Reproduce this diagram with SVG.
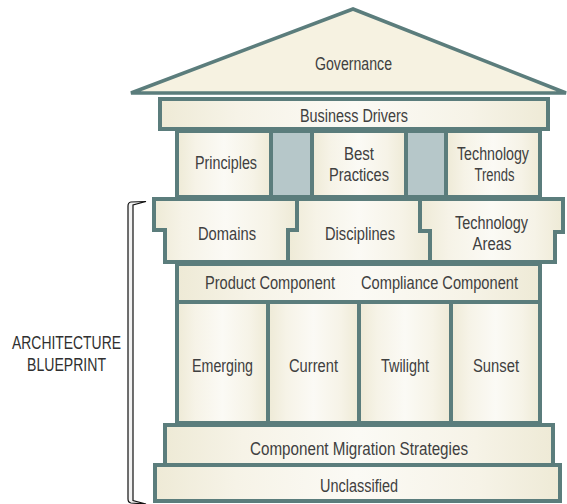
<svg xmlns="http://www.w3.org/2000/svg" width="567" height="504" viewBox="0 0 567 504">
  <defs>
    <linearGradient id="cream" x1="0" y1="0" x2="1" y2="0">
      <stop offset="0" stop-color="#eeead6"/>
      <stop offset="0.2" stop-color="#f6f3e7"/>
      <stop offset="0.5" stop-color="#fbfaf5"/>
      <stop offset="0.8" stop-color="#f6f3e7"/>
      <stop offset="1" stop-color="#eeead6"/>
    </linearGradient>
    <style>
      .box { fill: url(#cream); stroke: #5b7d7c; stroke-width: 4; stroke-linejoin: miter; }
      .roof { fill: #f6f2e1; stroke: #5b7d7c; stroke-width: 3.5; stroke-linejoin: miter; }
      .gap { fill: #b6c7c9; stroke: #5b7d7c; stroke-width: 4; }
      .lbl { font-family: "Liberation Sans", Arial, sans-serif; font-size: 17.5px; fill: #404040; text-anchor: middle; }
      .side { font-family: "Liberation Sans", Arial, sans-serif; font-size: 17.5px; fill: #303030; text-anchor: middle; }
      .brk { fill: #f2f2f2; stroke: #111; stroke-width: 1.2; }
    </style>
  </defs>

  <rect width="567" height="504" fill="#ffffff"/>

  <!-- roof -->
  <g id="governance">
    <polygon class="roof" points="353,9 131,93 566,93"/>
    <text class="lbl" x="353.5" y="70" textLength="77" lengthAdjust="spacingAndGlyphs">Governance</text>
  </g>

  <g id="business-drivers">
    <rect class="box" x="160" y="99" width="388" height="30"/>
    <text class="lbl" x="354" y="122" textLength="108" lengthAdjust="spacingAndGlyphs">Business Drivers</text>
  </g>

  <!-- upper columns row with gray gaps -->
  <g id="upper-row">
    <rect class="gap" x="177" y="131" width="363" height="66"/>
  </g>
  <g id="principles">
    <rect class="box" x="177" y="131" width="94" height="66"/>
    <text class="lbl" x="226" y="169" textLength="62" lengthAdjust="spacingAndGlyphs">Principles</text>
  </g>
  <g id="best-practices">
    <rect class="box" x="312" y="131" width="94" height="66"/>
    <text class="lbl" x="359" y="160" textLength="30" lengthAdjust="spacingAndGlyphs">Best</text>
    <text class="lbl" x="359" y="181" textLength="60" lengthAdjust="spacingAndGlyphs">Practices</text>
  </g>
  <g id="technology-trends">
    <rect class="box" x="446" y="131" width="94" height="66"/>
    <text class="lbl" x="493" y="160" textLength="72" lengthAdjust="spacingAndGlyphs">Technology</text>
    <text class="lbl" x="494.5" y="181" textLength="40" lengthAdjust="spacingAndGlyphs">Trends</text>
  </g>

  <!-- interlocking pieces -->
  <g id="domains">
    <polygon class="box" points="154,199 297,199 297,230 288,230 288,262 165,262 165,230 154,230"/>
    <text class="lbl" x="227" y="240" textLength="58" lengthAdjust="spacingAndGlyphs">Domains</text>
  </g>
  <g id="disciplines">
    <polygon class="box" points="297,199 420,199 420,231 430,231 430,262 288,262 288,230 297,230"/>
    <text class="lbl" x="360" y="240" textLength="70" lengthAdjust="spacingAndGlyphs">Disciplines</text>
  </g>
  <g id="technology-areas">
    <polygon class="box" points="420,199 563,199 563,232 555,232 555,262 430,262 430,231 420,231"/>
    <text class="lbl" x="491.5" y="229" textLength="73" lengthAdjust="spacingAndGlyphs">Technology</text>
    <text class="lbl" x="492" y="250" textLength="39" lengthAdjust="spacingAndGlyphs">Areas</text>
  </g>

  <g id="components">
    <rect class="box" x="177" y="264" width="363" height="38"/>
    <text class="lbl" x="270" y="289" textLength="130" lengthAdjust="spacingAndGlyphs">Product Component</text>
    <text class="lbl" x="439.5" y="289" textLength="157" lengthAdjust="spacingAndGlyphs">Compliance Component</text>
  </g>

  <!-- lifecycle columns -->
  <g id="emerging">
    <rect class="box" x="177" y="302" width="91" height="121"/>
    <text class="lbl" x="222.5" y="372" textLength="61" lengthAdjust="spacingAndGlyphs">Emerging</text>
  </g>
  <g id="current">
    <rect class="box" x="268" y="302" width="91" height="121"/>
    <text class="lbl" x="313.5" y="372" textLength="49" lengthAdjust="spacingAndGlyphs">Current</text>
  </g>
  <g id="twilight">
    <rect class="box" x="359" y="302" width="92" height="121"/>
    <text class="lbl" x="405" y="372" textLength="48" lengthAdjust="spacingAndGlyphs">Twilight</text>
  </g>
  <g id="sunset">
    <rect class="box" x="451" y="302" width="89" height="121"/>
    <text class="lbl" x="496" y="372" textLength="46" lengthAdjust="spacingAndGlyphs">Sunset</text>
  </g>

  <g id="migration-strategies">
    <rect class="box" x="165" y="425" width="388" height="40"/>
    <text class="lbl" x="359" y="455" textLength="218" lengthAdjust="spacingAndGlyphs">Component Migration  Strategies</text>
  </g>

  <g id="unclassified">
    <rect class="box" x="155" y="465" width="405" height="36"/>
    <text class="lbl" x="359" y="492" textLength="78" lengthAdjust="spacingAndGlyphs">Unclassified</text>
  </g>

  <!-- bracket spanning the blueprint layers -->
  <g id="connectors">
    <path class="brk" d="M146,201.5 L131,202 Q128,202.5 128,206 L128,499 Q128,502.5 131,503 L146,504 L133,500.5 L133,205 Z"/>
  </g>

  <g id="architecture-blueprint">
    <text class="side" x="66.5" y="349" textLength="109" lengthAdjust="spacingAndGlyphs">ARCHITECTURE</text>
    <text class="side" x="66.5" y="371" textLength="79" lengthAdjust="spacingAndGlyphs">BLUEPRINT</text>
  </g>
</svg>
